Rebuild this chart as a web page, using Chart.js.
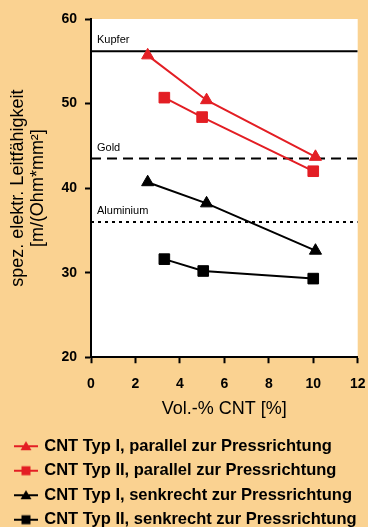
<!DOCTYPE html>
<html>
<head>
<meta charset="utf-8">
<script src="https://cdn.jsdelivr.net/npm/chart.js@4"></script>
<style>
  html, body { margin: 0; padding: 0; background: #fad291; overflow: hidden; }
  #wrap { width: 368px; height: 538px; position: relative; }
</style>
</head>
<body>
<div id="wrap"><canvas id="myChart"></canvas></div>
<script>
// Werte
var xTypIpar = [2.55, 5.2, 10.1];
var yTypIpar = [55.7, 50.4, 43.7];
var xTypIIpar = [3.3, 5.0, 10.0];
var yTypIIpar = [50.7, 48.4, 42.0];
var xTypIsenk = [2.55, 5.2, 10.1];
var yTypIsenk = [40.7, 38.2, 32.6];
var xTypIIsenk = [3.3, 5.05, 10.0];
var yTypIIsenk = [31.6, 30.2, 29.3];

var seriesNames = [
  "CNT Typ I, parallel zur Pressrichtung",
  "CNT Typ II, parallel zur Pressrichtung",
  "CNT Typ I, senkrecht zur Pressrichtung",
  "CNT Typ II, senkrecht zur Pressrichtung"
];

// Referenzmetalle
var refNames = ["Kupfer", "Gold", "Aluminium"];
var refValues = [56.2, 43.5, 36.0];
var refDash = [[], [10, 6], [3, 4]];

var xTicks = [0, 2, 4, 6, 8, 10, 12];
var yTicks = [20, 30, 40, 50, 60];

var red = "#e31e24";
var black = "#000000";

function pts(xs, ys) {
  return xs.map(function (x, i) { return {x: x, y: ys[i]}; });
}

// kleine Legendensymbole (Linie + Marker)
function legendIcon(color, shape) {
  var c = document.createElement("canvas");
  c.width = 24; c.height = 12;
  var ctx = c.getContext("2d");
  ctx.strokeStyle = color;
  ctx.fillStyle = color;
  ctx.lineWidth = 2;
  ctx.beginPath(); ctx.moveTo(0, 6); ctx.lineTo(24, 6); ctx.stroke();
  ctx.beginPath();
  if (shape === "triangle") {
    ctx.moveTo(12, 1); ctx.lineTo(17.5, 10); ctx.lineTo(6.5, 10);
  } else {
    ctx.rect(7.5, 1.5, 9, 9);
  }
  ctx.closePath(); ctx.fill();
  return c;
}
var legendIcons = [
  legendIcon(red, "triangle"),
  legendIcon(red, "rect"),
  legendIcon(black, "triangle"),
  legendIcon(black, "rect")
];

var datasets = [
  {label: seriesNames[0], data: pts(xTypIpar, yTypIpar), borderColor: red, backgroundColor: red, pointStyle: "triangle", pointRadius: 7},
  {label: seriesNames[1], data: pts(xTypIIpar, yTypIIpar), borderColor: red, backgroundColor: red, pointStyle: "rect", pointRadius: 7.5},
  {label: seriesNames[2], data: pts(xTypIsenk, yTypIsenk), borderColor: black, backgroundColor: black, pointStyle: "triangle", pointRadius: 7},
  {label: seriesNames[3], data: pts(xTypIIsenk, yTypIIsenk), borderColor: black, backgroundColor: black, pointStyle: "rect", pointRadius: 7.5}
];
datasets.forEach(function (d) { d.borderWidth = 2; d.pointBorderWidth = 1; });

refValues.forEach(function (v, i) {
  datasets.push({
    label: refNames[i],
    data: [{x: xTicks[0], y: v}, {x: xTicks[xTicks.length - 1], y: v}],
    borderColor: black,
    borderWidth: 2,
    borderDash: refDash[i],
    pointRadius: 0
  });
});

Chart.defaults.font.family = "'Liberation Sans', Arial, sans-serif";
Chart.defaults.color = "#000";

var plotBg = {
  id: "plotBg",
  beforeDraw: function (chart) {
    var a = chart.chartArea, ctx = chart.ctx;
    ctx.save();
    ctx.fillStyle = "#ffffff";
    ctx.fillRect(a.left, a.top, a.right - a.left, a.bottom - a.top);
    ctx.restore();
  }
};

var refLabels = {
  id: "refLabels",
  afterDatasetsDraw: function (chart) {
    var ctx = chart.ctx, ys = chart.scales.y, a = chart.chartArea;
    ctx.save();
    ctx.font = "11px 'Liberation Sans', Arial, sans-serif";
    ctx.fillStyle = "#000";
    ctx.textBaseline = "middle";
    refNames.forEach(function (n, i) {
      ctx.fillText(n, a.left + 6, ys.getPixelForValue(refValues[i]) - 11);
    });
    ctx.restore();
  }
};

new Chart("myChart", {
  type: "line",
  data: {datasets: datasets},
  plugins: [plotBg, refLabels],
  options: {
    responsive: true,
    maintainAspectRatio: false,
    animation: false,
    layout: {padding: {left: 8, right: 10.3, top: 19, bottom: 0}},
    plugins: {
      tooltip: {enabled: false},
      legend: {
        position: "bottom",
        align: "start",
        labels: {
          usePointStyle: true,
          pointStyleWidth: 20,
          padding: 8,
          color: "#000",
          font: {size: 16.5, weight: "bold"},
          generateLabels: function (chart) {
            var items = Chart.defaults.plugins.legend.labels.generateLabels(chart);
            return items.filter(function (it) { return it.datasetIndex < 4; })
              .map(function (it) { it.pointStyle = legendIcons[it.datasetIndex]; return it; });
          }
        }
      }
    },
    scales: {
      x: {
        type: "linear",
        min: xTicks[0],
        max: xTicks[xTicks.length - 1],
        afterBuildTicks: function (s) { s.ticks = xTicks.map(function (v) { return {value: v}; }); },
        ticks: {padding: 12, font: {size: 14, weight: "bold"}, color: "#000"},
        grid: {drawOnChartArea: false, drawTicks: true, tickLength: 6, tickColor: "#000", tickWidth: 2},
        border: {color: "#000", width: 2},
        title: {display: true, text: "Vol.-% CNT [%]", font: {size: 18}, color: "#000", padding: {top: 0, bottom: 10}},
        afterFit: function (s) { s.height = 72.75; s.paddingLeft = 0; s.paddingRight = 0; }
      },
      y: {
        min: yTicks[0],
        max: yTicks[yTicks.length - 1],
        afterBuildTicks: function (s) { s.ticks = yTicks.map(function (v) { return {value: v}; }); },
        ticks: {padding: 8, font: {size: 14, weight: "bold"}, color: "#000"},
        grid: {drawOnChartArea: false, drawTicks: true, tickLength: 6, tickColor: "#000", tickWidth: 2},
        border: {color: "#000", width: 2},
        title: {display: true, text: ["spez. elektr. Leitfähigkeit", "[m/(Ohm*mm²]"], font: {size: 18, lineHeight: 1.1}, color: "#000", padding: {top: 0, bottom: 0}},
        afterFit: function (s) { s.width = 83; s.paddingTop = 0; s.paddingBottom = 0; }
      }
    }
  }
});
</script>
</body>
</html>
